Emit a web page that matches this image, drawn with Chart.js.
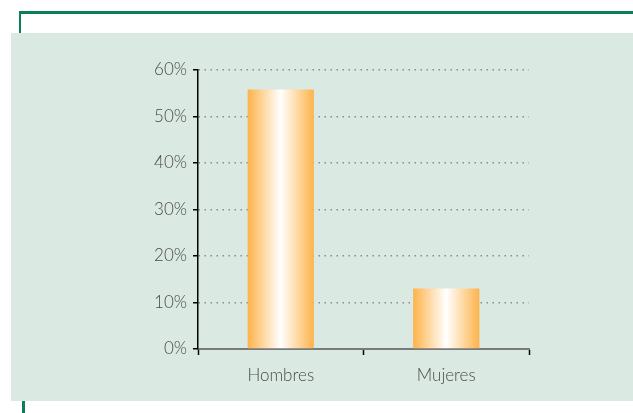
<!DOCTYPE html>
<html>
<head>
<meta charset="utf-8">
<script src="https://cdn.jsdelivr.net/npm/chart.js@4.4.1/dist/chart.umd.min.js"></script>
<style>
  html, body { margin: 0; padding: 0; background: #ffffff; }
  #marco { position: relative; width: 633px; height: 413px; overflow: hidden; }
  .linea { position: absolute; background: #0b7f57; }
  #panel { position: absolute; left: 11px; top: 33px; width: 622px; height: 368px; background: #dbe9e3; }
  #grafica { position: absolute; left: 0; top: 0; }
</style>
</head>
<body>
<div id="marco">
  <div class="linea" style="left:19px; top:11px; width:614px; height:3px;"></div>
  <div class="linea" style="left:19px; top:11px; width:2px; height:22px;"></div>
  <div class="linea" style="left:22px; top:401px; width:3px; height:12px;"></div>
  <div id="panel"></div>
  <canvas id="grafica" width="633" height="413"></canvas>
</div>
<script>
const categorias = ['Hombres', 'Mujeres'];
const porcentajes = [55.8, 13];
const marcasY = [0, 10, 20, 30, 40, 50, 60];

const anchoBarra = 0.4;

function degradado(context) {
    const chart = context.chart;
    const area = chart.chartArea;
    if (!area) return '#fdb54e';
    const centro = chart.scales.x.getPixelForValue(context.dataIndex);
    const mitad = (area.right - area.left) / categorias.length * anchoBarra / 2;
    const g = chart.ctx.createLinearGradient(centro - mitad, 0, centro + mitad, 0);
    g.addColorStop(0, '#fdb34a');
    g.addColorStop(0.5, '#ffffff');
    g.addColorStop(1, '#fdb34a');
    return g;
}

const ctx = document.getElementById('grafica').getContext('2d');
const chart = new Chart(ctx, {
    type: 'bar',
    data: {
        labels: categorias,
        datasets: [{
            data: porcentajes,
            backgroundColor: degradado,
            borderWidth: 0,
            barPercentage: anchoBarra,
            categoryPercentage: 1
        }]
    },
    options: {
        responsive: false,
        animation: false,
        layout: { padding: { left: 140, right: 104, top: 70, bottom: 0 } },
        plugins: { legend: { display: false }, tooltip: { enabled: false } },
        scales: {
            x: {
                afterFit: function(s) { s.height = 64; },
                border: { display: true, color: '#7a7a7a', width: 2 },
                grid: {
                    offset: true,
                    drawOnChartArea: false,
                    drawTicks: true,
                    tickLength: 6,
                    tickColor: '#000000',
                    tickWidth: 1.5
                },
                ticks: {
                    color: '#4a4a4a',
                    padding: 10,
                    font: { family: 'Lato', size: 17, weight: 300 }
                }
            },
            y: {
                min: 0,
                max: 60,
                afterFit: function(s) { s.width = 58; },
                afterBuildTicks: function(s) {
                    s.ticks = marcasY.map(v => ({ value: v }));
                },
                border: { display: true, color: '#000000', width: 1.5, dash: [1.5, 4.5] },
                grid: {
                    color: '#8a8a8a',
                    lineWidth: 1.5,
                    tickLength: 5,
                    tickColor: '#000000',
                    tickWidth: 1.5,
                    tickBorderDash: []
                },
                ticks: {
                    color: '#4a4a4a',
                    padding: 6,
                    font: { family: 'Lato', size: 17, weight: 300 },
                    callback: function(v) { return v + '%'; }
                }
            }
        }
    }
});
</script>
</body>
</html>
